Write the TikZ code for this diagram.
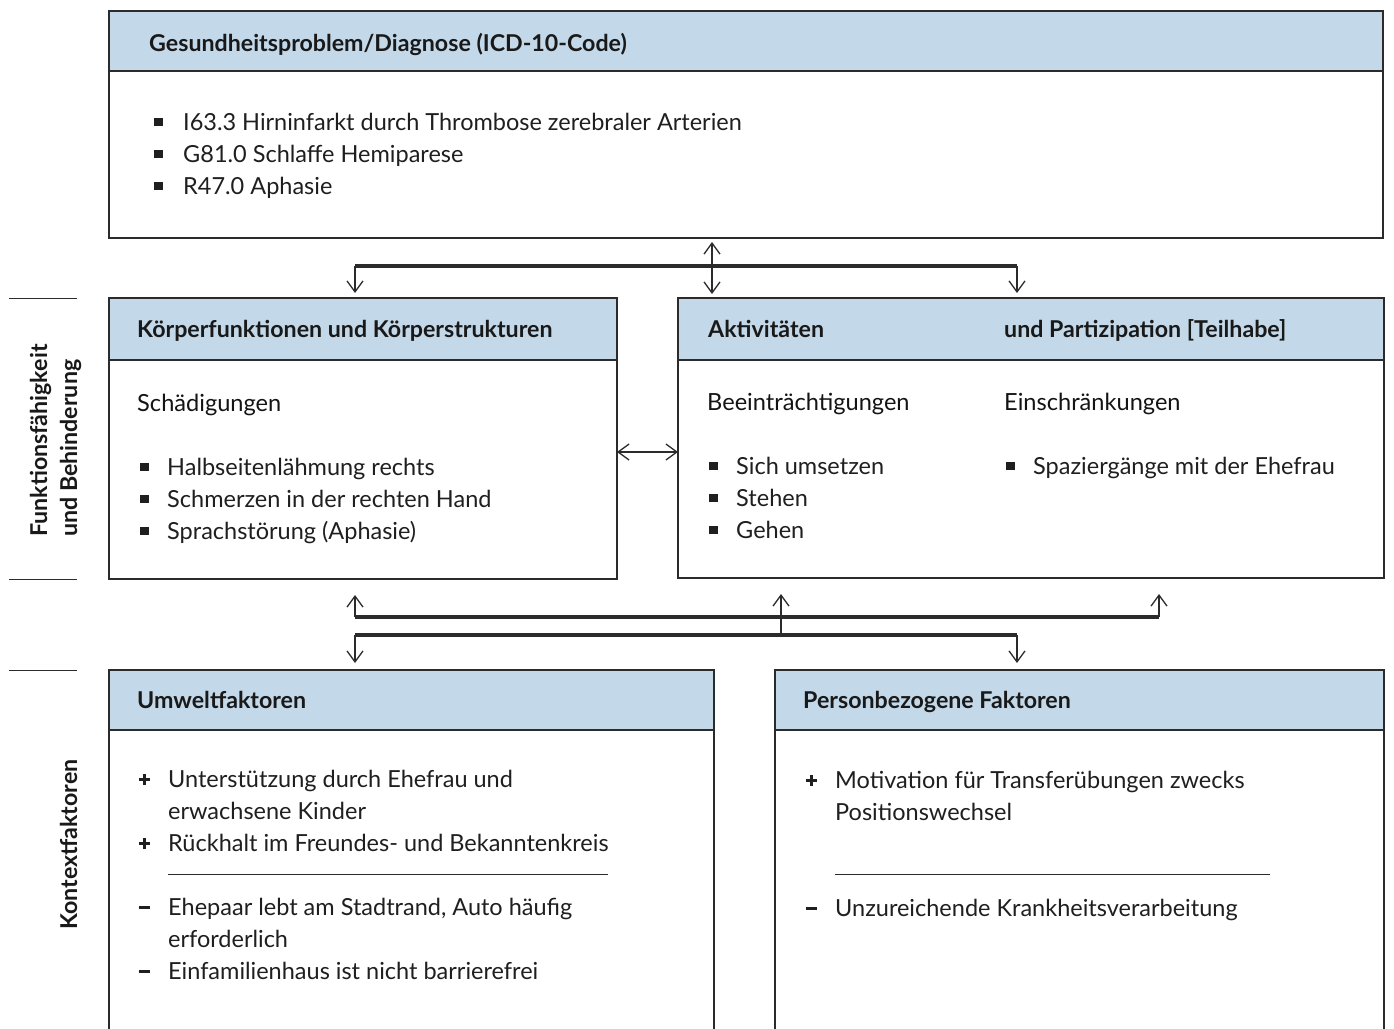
\documentclass[tikz,border=0pt]{standalone}
\usepackage{fontspec}
\setmainfont{Lato}
\usetikzlibrary{arrows.meta}
\definecolor{hdr}{HTML}{C3D8E8}
\definecolor{ln}{HTML}{2B2B2B}
\newcommand\bul[1][27pt]{\makebox[#1][l]{\raisebox{4pt}{\rule{8.5pt}{8.5pt}}}}
\newcommand\pls{\makebox[30pt][l]{\hspace{1pt}\rlap{\raisebox{6.4pt}{\rule{11pt}{2.8pt}}}\hspace{4.1pt}\raisebox{2.3pt}{\rule{2.8pt}{11pt}}}}
\newcommand\mns{\makebox[30pt][l]{\hspace{1pt}\raisebox{6.4pt}{\rule{11pt}{2.8pt}}}}
\newcommand\ind{\hspace*{30pt}}
\tikzset{
  box/.style={draw=ln, line width=1.2pt, fill=white, inner sep=0pt, outer sep=0pt, anchor=north west},
  hdrbox/.style={draw=ln, line width=1.2pt, fill=hdr, inner sep=0pt, outer sep=0pt, anchor=north west},
  txt/.style={inner sep=0pt, anchor=base west, align=left, text=black!88, font=\fontsize{23.5}{32}\selectfont},
  htxt/.style={inner sep=0pt, anchor=base west, text=black!90, font=\bfseries\fontsize{23.2}{26}\selectfont},
  sub/.style={inner sep=0pt, anchor=base west, text=black!92, font=\fontsize{23.6}{26}\selectfont},
  side/.style={inner sep=0pt, anchor=base west, rotate=90, text=black!90, font=\bfseries\fontsize{23.2}{26}\selectfont},
  tipb/.tip={Straight Barb[length=11pt,width=16pt,line width=1.3pt]},
  conn/.style={draw=ln, line width=1.4pt, -tipb},
  dconn/.style={draw=ln, line width=1.4pt, tipb-tipb},
  bar/.style={draw=ln, line width=3.2pt},
  rule/.style={draw=ln, line width=1pt},
}
\begin{document}
\begin{tikzpicture}[x=1pt,y=-1pt]
\useasboundingbox (0,0) rectangle (1394,1028);
\clip (0,0) rectangle (1394,1028);
\fill[white] (0,0) rectangle (1394,1028);

% top box
\node[box, minimum width=1274pt, minimum height=227pt] (top) at (109,11) {};
\node[hdrbox, minimum width=1274pt, minimum height=60pt] (toph) at (109,11) {};
\node[htxt] (topt) at (149,51) {Gesundheitsproblem/Diagnose (ICD-10-Code)};
\node[txt] (topl) at (154,194) {\bul[29pt]I63.3 Hirninfarkt durch Thrombose zerebraler Arterien\\
\bul[29pt]G81.0 Schlaffe Hemiparese\\
\bul[29pt]R47.0 Aphasie};

% Koerper box
\node[box, minimum width=508pt, minimum height=281pt] (koerper) at (109,298) {};
\node[hdrbox, minimum width=508pt, minimum height=62pt] (koerperh) at (109,298) {};
\node[htxt] (koerpert) at (137,337) {Körperfunktionen und Körperstrukturen};
\node[sub] (schaed) at (137,411) {Schädigungen};
\node[txt] (koerperl) at (140,539) {\bul Halbseitenlähmung rechts\\
\bul Schmerzen in der rechten Hand\\
\bul Sprachstörung (Aphasie)};

% Aktivitaeten box
\node[box, minimum width=706pt, minimum height=280pt] (akt) at (678,298) {};
\node[hdrbox, minimum width=706pt, minimum height=62pt] (akth) at (678,298) {};
\node[htxt] (aktt) at (708,337) {Aktivitäten};
\node[htxt] (partt) at (1004,337) {und Partizipation [Teilhabe]};
\node[sub] (beein) at (707,410) {Beeinträchtigungen};
\node[sub] (einsch) at (1004,410) {Einschränkungen};
\node[txt] (aktl) at (709,538) {\bul Sich umsetzen\\
\bul Stehen\\
\bul Gehen};
\node[txt] (partl) at (1006,474) {\bul Spaziergänge mit der Ehefrau};

% Umwelt box
\node[box, minimum width=605pt, minimum height=380pt] (umwelt) at (109,670) {};
\node[hdrbox, minimum width=605pt, minimum height=60pt] (umwelth) at (109,670) {};
\node[htxt] (umweltt) at (137,708) {Umweltfaktoren};
\node[txt] (umweltp) at (138,851) {\pls Unterstützung durch Ehefrau und\\
\ind erwachsene Kinder\\
\pls Rückhalt im Freundes- und Bekanntenkreis};
\draw[rule] (168,874) -- (608,874);
\node[txt] (umweltm) at (138,979) {\mns Ehepaar lebt am Stadtrand, Auto häufig\\
\ind erforderlich\\
\mns Einfamilienhaus ist nicht barrierefrei};

% Person box
\node[box, minimum width=609pt, minimum height=380pt] (person) at (775,670) {};
\node[hdrbox, minimum width=609pt, minimum height=60pt] (personh) at (775,670) {};
\node[htxt] (persont) at (803,708) {Personbezogene Faktoren};
\node[txt] (personp) at (805,820) {\pls Motivation für Transferübungen zwecks\\
\ind Positionswechsel};
\draw[rule] (835,874) -- (1270,874);
\node[txt] (personm) at (805,916) {\mns Unzureichende Krankheitsverarbeitung};

% side labels
\draw[rule] (9,298) -- (77,298);
\draw[rule] (9,579) -- (77,579);
\draw[rule] (9,670) -- (77,670);
\node[side] (sideA) at (47,537) {Funktionsfähigkeit};
\node[side] (sideB) at (77,537) {und Behinderung};
\node[side] (sideC) at (77,930) {Kontextfaktoren};

% top connectors
\coordinate (jtl) at (355,266);
\coordinate (jtr) at (1017,266);
\coordinate (jtm) at (712,266);
\draw[bar] (jtl) -- (jtr);
\draw[conn, shorten >=5pt] (jtl) -- (jtl |- koerper.north);
\draw[conn, shorten >=5pt] (jtr) -- (jtr |- akt.north);
\draw[dconn, shorten <=4pt, shorten >=4pt] (jtm |- top.south) -- (jtm |- akt.north);

% middle double arrow
\coordinate (jh) at (640,452);
\draw[dconn] (jh -| koerper.east) -- (jh -| akt.west);

% lower connectors
\coordinate (ul) at (355,617);
\coordinate (um) at (781,617);
\coordinate (ur) at (1159,617);
\coordinate (ll) at (355,635);
\coordinate (lr) at (1017,635);
\draw[bar] (ul) -- (ur);
\draw[bar] (ll) -- (lr);
\draw[draw=ln, line width=1.4pt] (um) -- (um |- ll);
\draw[conn, shorten >=16pt] (ul) -- (ul |- koerper.south);
\draw[conn, shorten >=16pt] (um) -- (um |- akt.south);
\draw[conn, shorten >=16pt] (ur) -- (ur |- akt.south);
\draw[conn, shorten >=7pt] (ll) -- (ll |- umwelt.north);
\draw[conn, shorten >=7pt] (lr) -- (lr |- person.north);
\end{tikzpicture}
\end{document}
